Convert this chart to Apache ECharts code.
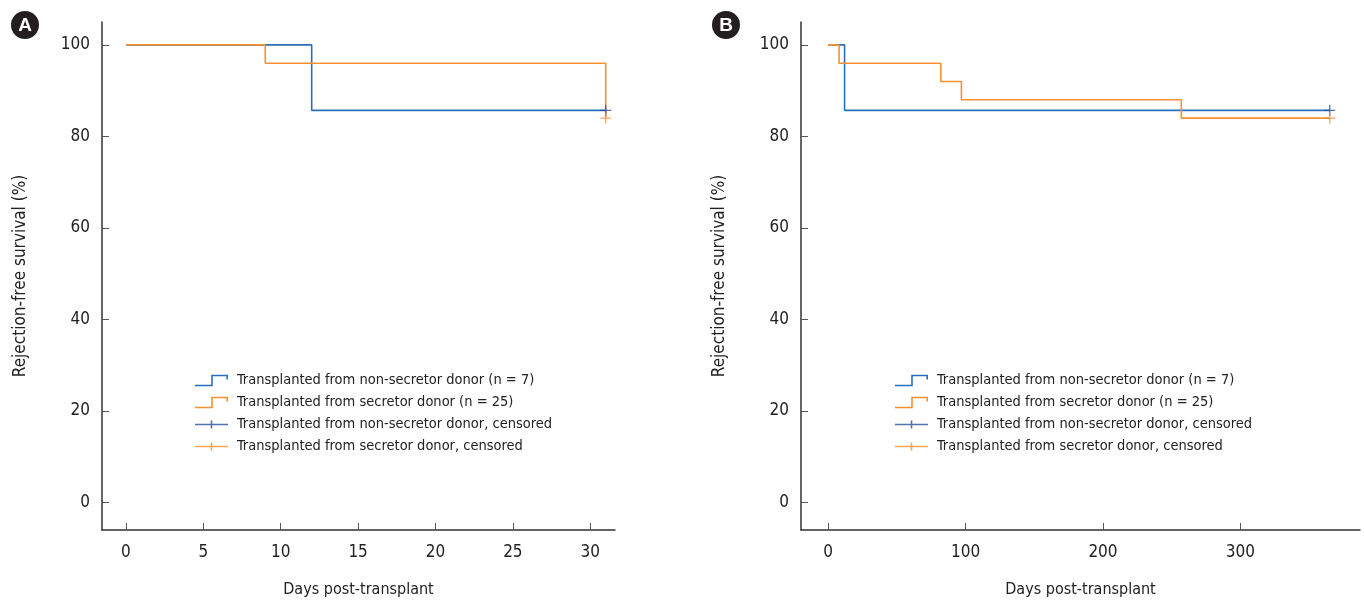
<!DOCTYPE html>
<html lang="en">
<head>
    <meta charset="utf-8">
    <title>Rejection-free survival</title>
    <script type="text/javascript" src="https://cdn.jsdelivr.net/npm/echarts@6/dist/echarts.min.js"></script>
    <style>
        html, body { margin: 0; padding: 0; background: #fff; }
        #main { width: 1364px; height: 604px; }
    </style>
</head>
<body>
<div id="main"></div>

<script>
    // ---- data ----
    var names = [
        'Transplanted from non-secretor donor (n = 7)',
        'Transplanted from secretor donor (n = 25)',
        'Transplanted from non-secretor donor, censored',
        'Transplanted from secretor donor, censored'
    ];
    var yTicks = [0, 20, 40, 60, 80, 100];
    var xTicksA = [0, 5, 10, 15, 20, 25, 30];
    var xTicksB = [0, 100, 200, 300];

    // panel A (30 days)
    var aNonSecDays = [0, 12, 31];
    var aNonSecSurv = [100, 85.7, 85.7];
    var aSecDays = [0, 9, 31];
    var aSecSurv = [100, 96, 84];
    var aNonSecCensor = [[31, 85.7]];
    var aSecCensor = [[31, 84]];

    // panel B (1 year)
    var bNonSecDays = [0, 12, 365];
    var bNonSecSurv = [100, 85.7, 85.7];
    var bSecDays = [0, 8, 82, 97, 257, 365];
    var bSecSurv = [100, 96, 92, 88, 84, 84];
    var bNonSecCensor = [[365, 85.7]];
    var bSecCensor = [[365, 84]];

    var blue = '#2a6fbd';
    var blueDark = '#2c4f98';
    var orange = '#f7902f';
    var font = '"DejaVu Sans Condensed", "Liberation Sans Narrow", sans-serif';

    var stepIcon = 'path://M0,10.2 L16.2,10.2 L16.2,0.2 L33,0.2 L33,5 L31.4,5 L31.4,1.8 L17.8,1.8 L17.8,11.8 L0,11.8 Z';
    var plusIcon = 'path://M0,5.2 L33,5.2 L33,6.8 L0,6.8 Z M15.7,2 L17.3,2 L17.3,10 L15.7,10 Z';
    var plusMark = 'path://M0,4.4 L10,4.4 L10,5.6 L0,5.6 Z M4.4,0 L5.6,0 L5.6,10 L4.4,10 Z';

    function zip(xs, ys) {
        return xs.map(function (x, i) { return [x, ys[i]]; });
    }

    function xAxis(idx, min, max, ticks) {
        return {
            type: 'value', gridIndex: idx, min: min, max: max,
            name: 'Days post-transplant', nameLocation: 'middle', nameGap: 52,
            nameTextStyle: { fontFamily: font, fontSize: 16, color: '#222' },
            axisLine: { onZero: false, lineStyle: { color: '#333', width: 1.5 } },
            axisTick: { inside: true, length: 7, customValues: ticks, lineStyle: { color: '#555' } },
            axisLabel: { customValues: ticks, margin: 14, fontFamily: font, fontSize: 17, color: '#222' },
            splitLine: { show: false }
        };
    }

    function yAxis(idx) {
        return {
            type: 'value', gridIndex: idx, min: -6, max: 105,
            name: 'Rejection-free survival (%)', nameLocation: 'middle', nameGap: 73,
            nameTextStyle: { fontFamily: font, fontSize: 17, color: '#222' },
            axisLine: { show: true, onZero: false, lineStyle: { color: '#333', width: 1.5 } },
            axisTick: { show: true, inside: true, length: 7, customValues: yTicks, lineStyle: { color: '#555' } },
            axisLabel: { customValues: yTicks, margin: 12, fontFamily: font, fontSize: 17, color: '#222' },
            splitLine: { show: false }
        };
    }

    function stepSeries(idx, name, data, color) {
        return {
            name: name, type: 'line', step: 'end', xAxisIndex: idx, yAxisIndex: idx,
            data: data, showSymbol: false, symbol: 'none',
            lineStyle: { color: color, width: 1.6 }, itemStyle: { color: color }, z: 2
        };
    }

    function censorSeries(idx, name, data, color) {
        return {
            name: name, type: 'scatter', xAxisIndex: idx, yAxisIndex: idx,
            data: data, symbol: plusMark, symbolSize: 11,
            itemStyle: { color: color }, z: 3
        };
    }

    function legend(left) {
        return {
            orient: 'vertical', left: left, top: 373, padding: 0,
            itemWidth: 33, itemHeight: 12, itemGap: 7,
            textStyle: { fontFamily: font, fontSize: 14.5, color: '#222', padding: [0, 0, 0, 4] },
            selectedMode: false,
            data: [
                { name: names[0], icon: stepIcon, itemStyle: { color: blue } },
                { name: names[1], icon: stepIcon, itemStyle: { color: orange } },
                { name: names[2], icon: plusIcon, itemStyle: { color: blueDark } },
                { name: names[3], icon: plusIcon, itemStyle: { color: orange } }
            ]
        };
    }

    function badge(cx, letter) {
        return {
            type: 'group', children: [
                { type: 'circle', shape: { cx: cx, cy: 25, r: 14 }, style: { fill: '#231f20' } },
                { type: 'text', x: cx, y: 26, style: { text: letter, fill: '#fff', font: 'bold 19px "Liberation Sans", sans-serif', align: 'center', verticalAlign: 'middle' } }
            ]
        };
    }

    var myChart = echarts.init(document.getElementById('main'));
    var option = {
        animation: false,
        backgroundColor: '#fff',
        grid: [
            { left: 102, top: 22, width: 513, height: 508 },
            { left: 801, top: 22, width: 559, height: 508 }
        ],
        xAxis: [xAxis(0, -1.55, 31.6, xTicksA), xAxis(1, -19.7, 387, xTicksB)],
        yAxis: [yAxis(0), yAxis(1)],
        legend: [legend(195), legend(895)],
        graphic: [badge(25, 'A'), badge(726, 'B')],
        series: [
            stepSeries(0, names[0], zip(aNonSecDays, aNonSecSurv), blue),
            stepSeries(0, names[1], zip(aSecDays, aSecSurv), orange),
            censorSeries(0, names[2], aNonSecCensor, blueDark),
            censorSeries(0, names[3], aSecCensor, orange),
            stepSeries(1, names[0], zip(bNonSecDays, bNonSecSurv), blue),
            stepSeries(1, names[1], zip(bSecDays, bSecSurv), orange),
            censorSeries(1, names[2], bNonSecCensor, blueDark),
            censorSeries(1, names[3], bSecCensor, orange)
        ]
    };
    myChart.setOption(option);
</script>
</body>
</html>
